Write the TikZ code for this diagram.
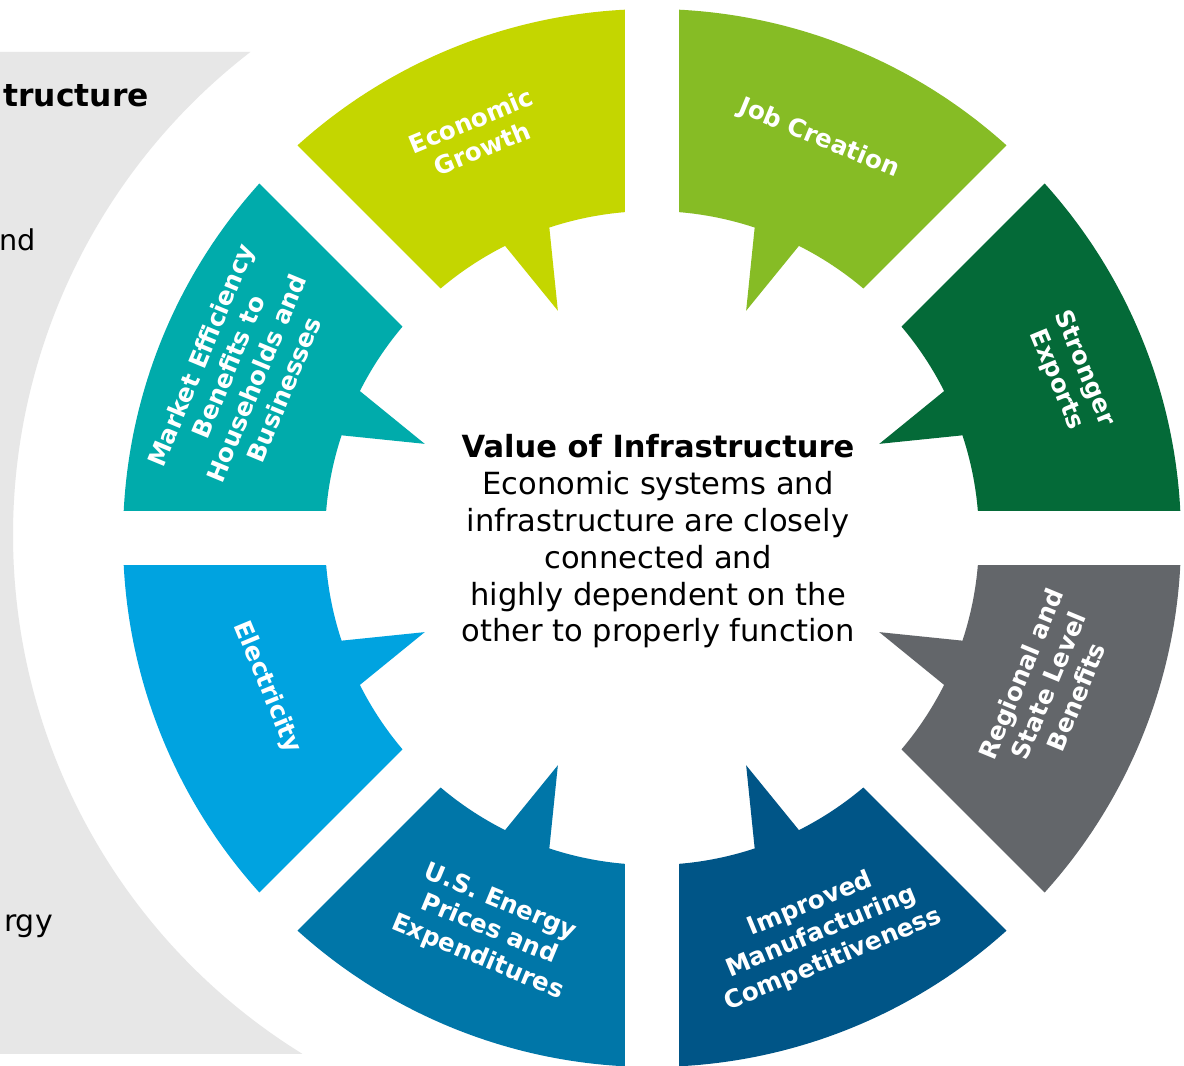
\documentclass[tikz,border=0pt]{standalone}
\usepackage{fontspec}
\setmainfont{DejaVu Sans}
\usetikzlibrary{calc}
\definecolor{cEcon}{HTML}{C4D600}
\definecolor{cJob}{HTML}{86BC25}
\definecolor{cExp}{HTML}{046A38}
\definecolor{cReg}{HTML}{63666A}
\definecolor{cMan}{HTML}{005587}
\definecolor{cUSE}{HTML}{0076A8}
\definecolor{cEle}{HTML}{00A3E0}
\definecolor{cMkt}{HTML}{00ABAB}
\definecolor{bggrey}{HTML}{E7E7E7}
\newcommand{\wheelSeg}[2]{%
  \fill[#2] ({#1+4.74}:327) -- ({#1+2.93}:529)
    arc[start angle={#1+2.93}, end angle={#1+42.07}, radius=396.75pt]
    -- ({#1+40.26}:327)
    arc[start angle={#1+40.26}, end angle={#1+26.7}, radius=245.25pt]
    -- ({#1+22.5}:246) -- ({#1+18.3}:327)
    arc[start angle={#1+18.3}, end angle={#1+4.74}, radius=245.25pt] -- cycle;
}
\begin{document}
\begin{tikzpicture}[x=0.75pt,y=0.75pt,
  lbl/.style={text=white, font=\bfseries\fontsize{18.5}{22.5}\selectfont, align=center, inner sep=0pt},
  sidetxt/.style={anchor=base east, inner sep=0pt, text=black}]
\useasboundingbox (0,0) rectangle (1184,1066);
\fill[white] (0,0) rectangle (1184,1066);
% grey background panel
\fill[bggrey] (0,1014) -- (250.4,1014) arc[start angle=127.65, end angle=238.3, radius=457.5pt] -- (0,12) -- cycle;
\node[sidetxt, font=\bfseries\fontsize{23.5}{28}\selectfont] (t1) at (149,959) {tructure};
\node[sidetxt, font=\fontsize{21.5}{26}\selectfont] (t2) at (36,815) {nd};
\node[sidetxt, font=\fontsize{22.5}{27}\selectfont] (t3) at (53,134) {rgy};
\begin{scope}[shift={(652,528)}]
\wheelSeg{90}{cEcon}
\wheelSeg{45}{cJob}
\wheelSeg{0}{cExp}
\wheelSeg{-45}{cReg}
\wheelSeg{-90}{cMan}
\wheelSeg{-135}{cUSE}
\wheelSeg{180}{cEle}
\wheelSeg{135}{cMkt}
\node[lbl, rotate=22.5] (econ) at (113.5:440) {Economic\\Growth};
\node[lbl, rotate=-22.5] (job) at (67.3:433) {Job Creation};
\node[lbl, rotate=-67.5] (exp) at (21.4:449) {Stronger\\Exports};
\node[lbl, rotate=67.5] (reg) at (-20.4:423) {Regional and\\State Level\\Benefits};
\node[lbl, rotate=22.5] (man) at (-66.7:429) {Improved\\Manufacturing\\Competitiveness};
\node[lbl, rotate=-22.5] (use) at (-112.6:424.5) {U.S. Energy\\Prices and\\Expenditures};
\node[lbl, rotate=-67.5] (ele) at (-158.8:413) {Electricity};
\node[lbl, rotate=67.5] (mkt) at (158:442) {Market Efficiency\\Benefits to\\Households and\\Businesses};
\node[align=center, inner sep=0pt, text=black, font=\fontsize{22.9}{27.6}\selectfont] (center) at (6,-3.5)
  {\textbf{Value of Infrastructure}\\Economic systems and\\infrastructure are closely\\connected and\\highly dependent on the\\other to properly function};
\end{scope}
\end{tikzpicture}
\end{document}
